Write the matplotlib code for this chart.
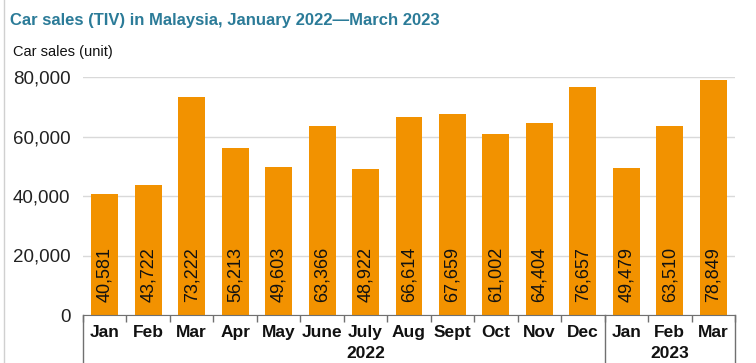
import matplotlib.pyplot as plt
from matplotlib.lines import Line2D

# Monthly TIV figures
months = ['Jan', 'Feb', 'Mar', 'Apr', 'May', 'June', 'July', 'Aug', 'Sept',
          'Oct', 'Nov', 'Dec', 'Jan', 'Feb', 'Mar']
sales = [40581, 43722, 73222, 56213, 49603, 63366, 48922, 66614, 67659,
         61002, 64404, 76657, 49479, 63510, 78849]
years = ['2022', '2023']
year_centre = [6, 13]       # category index under which the year sits
year_break = 11.5           # boundary between Dec and Jan
y_ticks = [0, 20000, 40000, 60000, 80000]

orange = '#F29200'
teal = '#2B7B98'
axis_grey = '#707070'

plt.rcParams['font.family'] = ['Liberation Sans', 'DejaVu Sans']

fig = plt.figure(figsize=(7.56, 3.63), dpi=100)
ax = fig.add_axes([83 / 756, 1 - 315 / 363, 652 / 756, 238 / 363])

x = list(range(len(months)))
ax.bar(x, sales, width=0.62, color=orange, zorder=2)

# value labels, rotated, sitting near the bottom of each bar
for xi, v in zip(x, sales):
    ax.text(xi, 4300, f'{v:,}', rotation=90, ha='center', va='bottom',
            fontsize=13, color='#111111', zorder=3)

ax.set_xlim(-0.5, len(months) - 0.5)
ax.set_ylim(0, 80000)
ax.set_yticks(y_ticks)
ax.set_yticklabels([f'{t:,}' for t in y_ticks])
ax.tick_params(axis='y', length=0, labelsize=13.5, pad=9, colors='#222222')
ax.grid(axis='y', color='#D9D9D9', linewidth=1, zorder=0)

# category boundaries as ticks, labels as minor ticks
ax.set_xticks([i - 0.5 for i in range(len(months) + 1)])
ax.set_xticklabels([])
ax.tick_params(axis='x', which='major', length=5, color=axis_grey, width=1)
ax.set_xticks(x, minor=True)
ax.set_xticklabels(months, minor=True, fontsize=12.5, fontweight='bold', color='#111111')
ax.tick_params(axis='x', which='minor', length=0, pad=7)

for s in ['top', 'right', 'left']:
    ax.spines[s].set_visible(False)
ax.spines['bottom'].set_color(axis_grey)
ax.spines['bottom'].set_zorder(4)

# long separators for the year groups
trans = ax.get_xaxis_transform()
for xb in [-0.5, year_break, len(months) - 0.5]:
    ax.add_line(Line2D([xb, xb], [0, -0.23], transform=trans, color=axis_grey,
                       linewidth=1, clip_on=False))
for yr, xc in zip(years, year_centre):
    ax.text(xc, -0.16, yr, transform=trans, ha='center', va='center',
            fontsize=12.5, fontweight='bold', color='#111111')

fig.text(10 / 756, 1 - 20 / 363, 'Car sales (TIV) in Malaysia, January 2022\u2014March 2023',
         ha='left', va='center', fontsize=12, fontweight='bold', color=teal)
fig.text(13 / 756, 1 - 52 / 363, 'Car sales (unit)', ha='left', va='center',
         fontsize=10.5, color='#111111')

# thin frame line on the left edge
fig.add_artist(Line2D([4 / 756, 4 / 756], [0, 1], transform=fig.transFigure,
                      color='#D0D0D0', linewidth=1))

fig.savefig('out.png', dpi=100)
